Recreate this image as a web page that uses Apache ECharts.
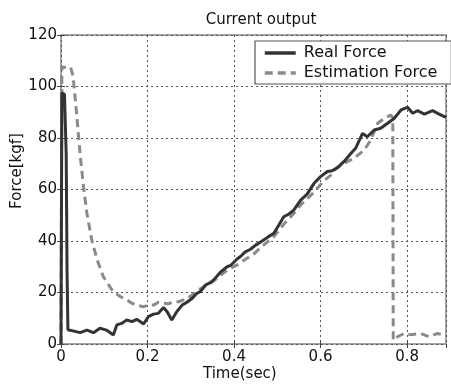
<!DOCTYPE html>
<html>
<head>
<meta charset="utf-8">
<script src="https://cdn.jsdelivr.net/npm/echarts@6/dist/echarts.min.js"></script>
<style>
html,body{margin:0;padding:0;background:#fff;}
#c{width:451px;height:385px;}
</style>
</head>
<body>
<div id="c"></div>
<script>
var chartTitle = 'Current output';
var xLabel = 'Time(sec)';
var yLabel = 'Force[kgf]';
var seriesNames = ['Real Force', 'Estimation Force'];
var xTicks = [0, 0.2, 0.4, 0.6, 0.8];
var yTicks = [0, 20, 40, 60, 80, 100, 120];

var realTime = [
  0, 0.002, 0.008, 0.012, 0.013, 0.014, 0.016, 0.03, 0.044, 0.06,
  0.075, 0.09, 0.105, 0.121, 0.129, 0.14, 0.152, 0.164, 0.175, 0.191,
  0.202, 0.214, 0.225, 0.237, 0.245, 0.256, 0.268, 0.28, 0.291, 0.303,
  0.314, 0.322, 0.334, 0.345, 0.353, 0.368, 0.384, 0.392, 0.407, 0.415,
  0.426, 0.438, 0.45, 0.465, 0.478, 0.492, 0.503, 0.515, 0.527, 0.538,
  0.554, 0.569, 0.585, 0.6, 0.616, 0.627, 0.639, 0.654, 0.67, 0.681,
  0.697, 0.708, 0.724, 0.739, 0.755, 0.77, 0.786, 0.801, 0.813, 0.824,
  0.84, 0.859, 0.874, 0.89
];
var realForce = [
  0, 97.5, 97, 74, 52, 28, 5.5, 5, 4.4, 5.4,
  4.4, 6.1, 5.4, 3.5, 7.4, 8, 9.3, 8.7, 9.6, 7.8,
  10.6, 11.6, 11.9, 14.2, 12.6, 9.3, 12.6, 15.1, 16.2, 17.7,
  19.7, 20.3, 22.9, 23.8, 24.9, 27.8, 30, 30.5, 33, 34,
  35.8, 36.8, 38.4, 40, 41.5, 43, 46, 49.4, 50.5, 52,
  55.9, 58.2, 62.4, 65, 67, 67.3, 68.5, 70.8, 74, 76,
  81.8, 80.5, 83.1, 83.8, 85.7, 87.6, 90.9, 91.9, 89.6, 90.6,
  89.3, 90.6, 89.3, 88
];

var estTime = [
  0, 0.002, 0.022, 0.028, 0.036, 0.044, 0.052, 0.06, 0.071, 0.083,
  0.098, 0.114, 0.121, 0.137, 0.152, 0.16, 0.175, 0.191, 0.202, 0.214,
  0.225, 0.237, 0.248, 0.26, 0.272, 0.283, 0.293, 0.303, 0.322, 0.345,
  0.361, 0.384, 0.407, 0.43, 0.446, 0.465, 0.492, 0.515, 0.538, 0.554,
  0.57, 0.585, 0.608, 0.623, 0.631, 0.654, 0.677, 0.701, 0.716, 0.732,
  0.747, 0.762, 0.767, 0.768, 0.778, 0.793, 0.808, 0.831, 0.85, 0.87,
  0.89
];
var estForce = [
  0, 107.5, 107.5, 104, 89.6, 74, 61, 50.7, 40.4, 33,
  26.1, 22, 20.3, 18.4, 17.2, 16.2, 15, 14.5, 15.1, 15.1,
  16.2, 15.8, 15.6, 16.4, 16.4, 17.1, 17.8, 19, 21.4, 23.6,
  25.5, 28.7, 30.7, 33.3, 35, 38, 41.7, 46.5, 50.7, 54,
  56.5, 59, 63.5, 65.5, 67.5, 70.2, 72.1, 75.3, 79.2, 85.7,
  87.6, 88.9, 88, 1.5, 2.8, 4.1, 3.6, 4.1, 2.8, 4.1,
  3.2
];

function zip(a, b) { return a.map(function (v, i) { return [v, b[i]]; }); }

var FONT = 'DejaVu Sans';
var chart = echarts.init(document.getElementById('c'), null, {renderer: 'canvas'});

var xMin = xTicks[0], xMax = 0.89, xInt = xTicks[1] - xTicks[0];
var yMin = yTicks[0], yMax = yTicks[yTicks.length - 1], yInt = yTicks[1] - yTicks[0];

function tickFormatter(list) {
  return function (v) {
    for (var i = 0; i < list.length; i++) {
      if (Math.abs(list[i] - v) < 1e-9) return String(list[i]);
    }
    return '';
  };
}

function xAxisDef(pos, showLabel, showSplit) {
  return {
    type: 'value', position: pos, min: xMin, max: xMax, interval: xInt,
    axisLine: {show: false},
    axisTick: {show: true, inside: true, length: 4, lineStyle: {color: '#444', width: 1}},
    axisLabel: {show: showLabel, color: '#111', fontFamily: FONT, fontSize: 15, margin: 6,
                showMaxLabel: false, formatter: tickFormatter(xTicks)},
    splitLine: {show: showSplit, lineStyle: {color: '#555', type: [2, 3], width: 1}}
  };
}
function yAxisDef(pos, showLabel, showSplit) {
  return {
    type: 'value', position: pos, min: yMin, max: yMax, interval: yInt,
    axisLine: {show: false},
    axisTick: {show: true, inside: true, length: 4, lineStyle: {color: '#444', width: 1}},
    axisLabel: {show: showLabel, color: '#111', fontFamily: FONT, fontSize: 15, margin: 4,
                formatter: tickFormatter(yTicks)},
    splitLine: {show: showSplit, lineStyle: {color: '#555', type: [2, 3], width: 1}}
  };
}

chart.setOption({
  animation: false,
  backgroundColor: '#fff',
  title: {
    text: chartTitle, left: 256, top: 8, textAlign: 'center',
    textStyle: {fontFamily: FONT, fontSize: 15, fontWeight: 'normal', color: '#111'}
  },
  grid: {left: 61, right: 5, top: 35, bottom: 41, show: true, borderColor: '#888', borderWidth: 1.5, backgroundColor: 'transparent'},
  legend: {
    data: seriesNames,
    orient: 'vertical', left: 255, top: 41, width: 192,
    itemWidth: 31, itemHeight: 14, itemGap: 4,
    padding: [4, 14, 3, 8],
    itemStyle: {opacity: 0},
    lineStyle: {width: 3.5},
    backgroundColor: '#fff', borderColor: '#555', borderWidth: 1.2,
    textStyle: {fontFamily: FONT, fontSize: 16, color: '#111', padding: [0, 0, 0, 3]}
  },
  xAxis: [xAxisDef('bottom', true, true), xAxisDef('top', false, false)],
  yAxis: [yAxisDef('left', true, true), yAxisDef('right', false, false)],
  graphic: [
    {type: 'text', left: 203, top: 367, style: {text: xLabel, font: '15px "DejaVu Sans"', fill: '#111'}},
    {type: 'text', x: 17, y: 171, rotation: Math.PI / 2, style: {text: yLabel, font: '15px "DejaVu Sans"', fill: '#111', textAlign: 'center', textVerticalAlign: 'middle'}}
  ],
  series: [
    {
      name: seriesNames[0], type: 'line', data: zip(realTime, realForce),
      showSymbol: false, symbol: 'none', z: 3,
      lineStyle: {color: '#333', width: 3},
      itemStyle: {color: '#333'}
    },
    {
      name: seriesNames[1], type: 'line', data: zip(estTime, estForce),
      showSymbol: false, symbol: 'none', z: 2,
      lineStyle: {color: '#8a8a8a', width: 3, type: [8, 5]},
      itemStyle: {color: '#8a8a8a'}
    }
  ]
});
</script>
</body>
</html>
